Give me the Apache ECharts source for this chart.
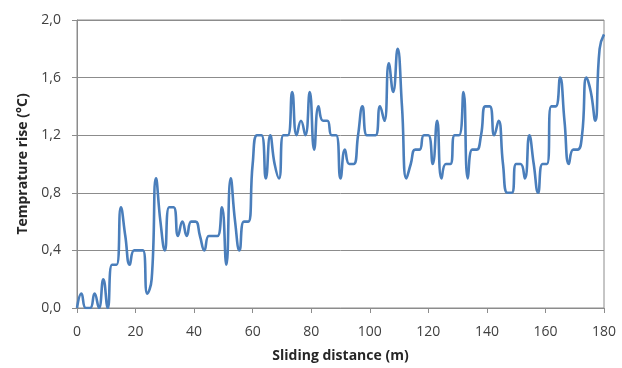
<!DOCTYPE html>
<html>
<head>
<meta charset="utf-8">
<title>Temperature rise vs sliding distance</title>
<script src="https://cdn.jsdelivr.net/npm/echarts@6/dist/echarts.min.js"></script>
<style>
  html, body { margin: 0; padding: 0; background: #ffffff; }
  #chart { width: 622px; height: 368px; }
</style>
</head>
<body>
<div id="chart"></div>
<script>
// Sliding distance (m), sampled every 1.5 m
const distance = [
  0, 1.5, 3, 4.5, 6, 7.5, 9, 10.5, 12, 13.5,
  15, 16.5, 18, 19.5, 21, 22.5, 24, 25.5, 27, 28.5,
  30, 31.5, 33, 34.5, 36, 37.5, 39, 40.5, 42, 43.5,
  45, 46.5, 48, 49.5, 51, 52.5, 54, 55.5, 57, 58.5,
  60, 61.5, 63, 64.5, 66, 67.5, 69, 70.5, 72, 73.5,
  75, 76.5, 78, 79.5, 81, 82.5, 84, 85.5, 87, 88.5,
  90, 91.5, 93, 94.5, 96, 97.5, 99, 100.5, 102, 103.5,
  105, 106.5, 108, 109.5, 111, 112.5, 114, 115.5, 117, 118.5,
  120, 121.5, 123, 124.5, 126, 127.5, 129, 130.5, 132, 133.5,
  135, 136.5, 138, 139.5, 141, 142.5, 144, 145.5, 147, 148.5,
  150, 151.5, 153, 154.5, 156, 157.5, 159, 160.5, 162, 163.5,
  165, 166.5, 168, 169.5, 171, 172.5, 174, 175.5, 177, 178.5,
  180
];

// Temperature rise (°C) at each distance
const tempRise = [
  0, 0.1, 0, 0, 0.1, 0, 0.2, 0, 0.3, 0.3,
  0.7, 0.5, 0.3, 0.4, 0.4, 0.4, 0.1, 0.2, 0.9, 0.6,
  0.4, 0.7, 0.7, 0.5, 0.6, 0.5, 0.6, 0.6, 0.5, 0.4,
  0.5, 0.5, 0.5, 0.7, 0.3, 0.9, 0.6, 0.4, 0.6, 0.6,
  1.0, 1.2, 1.2, 0.9, 1.2, 1.0, 0.9, 1.2, 1.2, 1.5,
  1.2, 1.3, 1.2, 1.5, 1.1, 1.4, 1.3, 1.3, 1.2, 1.2,
  0.9, 1.1, 1.0, 1.0, 1.2, 1.4, 1.2, 1.2, 1.2, 1.4,
  1.3, 1.7, 1.5, 1.8, 1.4, 0.9, 1.0, 1.1, 1.1, 1.2,
  1.2, 1.0, 1.3, 0.9, 1.0, 1.0, 1.2, 1.2, 1.5, 0.9,
  1.1, 1.1, 1.2, 1.4, 1.4, 1.2, 1.3, 1.0, 0.8, 0.8,
  1.0, 1.0, 0.9, 1.2, 1.0, 0.8, 1.0, 1.0, 1.4, 1.4,
  1.6, 1.3, 1.0, 1.1, 1.1, 1.2, 1.6, 1.5, 1.3, 1.8,
  1.9
];

// Axis ranges and tick spacing
const xRange = [0, 180];
const xStep = 20;
const yRange = [0, 2.0];
const yStep = 0.4;

const xTitle = 'Sliding distance (m)';
const yTitle = 'Temprature rise (°C)';

const points = distance.map((d, i) => [d, tempRise[i]]);

const labelFont = {
  fontFamily: '"Open Sans", "DejaVu Sans", sans-serif',
  fontSize: 14,
  color: '#404040'
};
const titleFont = {
  fontFamily: '"Open Sans", "DejaVu Sans", sans-serif',
  fontSize: 14,
  fontWeight: 'bold',
  color: '#262626'
};

const chart = echarts.init(document.getElementById('chart'), null, { renderer: 'canvas' });

chart.setOption({
  animation: false,
  backgroundColor: '#ffffff',
  grid: {
    left: 77,
    right: 18,
    top: 20,
    bottom: 59,
    show: true,
    borderColor: '#8c8c8c',
    borderWidth: 1,
    backgroundColor: 'transparent'
  },
  xAxis: {
    type: 'value',
    min: xRange[0],
    max: xRange[1],
    interval: xStep,
    name: xTitle,
    nameLocation: 'middle',
    nameGap: 41,
    nameTextStyle: titleFont,
    axisLine: { show: true, lineStyle: { color: '#8c8c8c', width: 1 } },
    axisTick: { show: true, length: 5, lineStyle: { color: '#8c8c8c' } },
    axisLabel: Object.assign({ margin: 17 }, labelFont),
    splitLine: { show: false }
  },
  yAxis: {
    type: 'value',
    min: yRange[0],
    max: yRange[1],
    interval: yStep,
    name: yTitle,
    nameLocation: 'middle',
    nameGap: 47,
    nameRotate: 90,
    nameTextStyle: titleFont,
    axisLine: { show: true, lineStyle: { color: '#8c8c8c', width: 1 } },
    axisTick: { show: true, length: 5, lineStyle: { color: '#8c8c8c' } },
    axisLabel: Object.assign({
      margin: 16,
      formatter: v => v.toFixed(1).replace('.', ',')
    }, labelFont),
    splitLine: { show: true, lineStyle: { color: '#8c8c8c', width: 1 } }
  },
  series: [{
    type: 'line',
    data: points,
    smooth: 0.5,
    showSymbol: false,
    symbol: 'none',
    lineStyle: { color: '#4a7ebb', width: 2.6 },
    clip: true
  }]
});
</script>
</body>
</html>
